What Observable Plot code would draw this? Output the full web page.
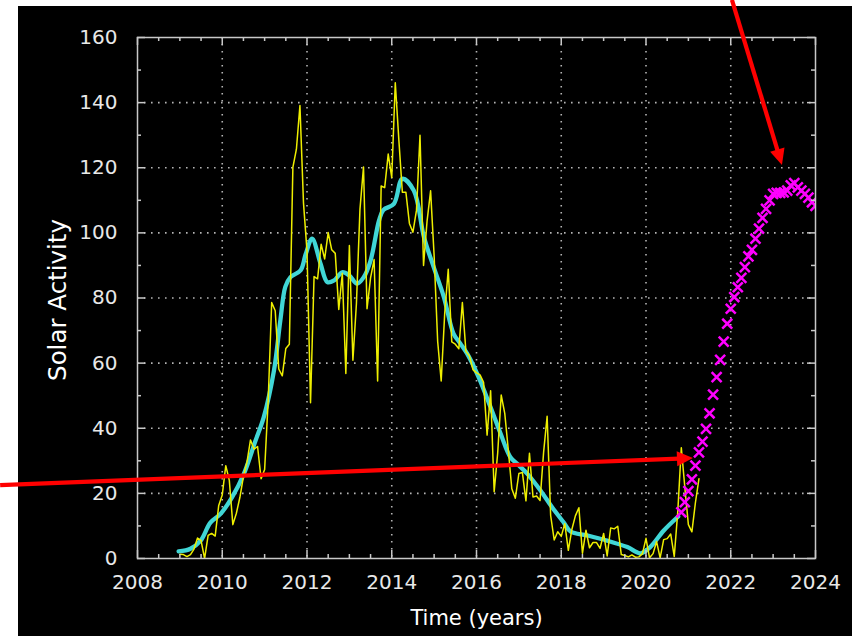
<!DOCTYPE html>
<html><head><meta charset="utf-8">
<script src="https://cdn.jsdelivr.net/npm/d3@7"></script>
<script src="https://cdn.jsdelivr.net/npm/@observablehq/plot@0.6"></script>
<style>
html,body{margin:0;padding:0;background:#fff;}
#wrap{position:relative;width:852px;height:638px;overflow:hidden;background:#fff;}
#bg{position:absolute;left:18px;top:6px;width:834px;height:630px;background:#000;}
#chart{position:absolute;left:0;top:0;}
</style></head><body>
<div id="wrap"><div id="bg"></div><div id="chart"></div></div>
<script>
// Monthly sunspot numbers, Jan 2009 .. Apr 2021 (yellow)
const monthlyStart = 2009;
const monthlyValues = [
  1.3, 1.2, 0.6, 1.2, 2.9, 6.3, 5.5, 0.0, 7.1, 7.7, 6.9, 16.3,
  19.5, 28.5, 24.0, 10.4, 13.9, 18.8, 25.2, 29.6, 36.4, 33.6, 34.4, 24.5,
  27.3, 48.3, 78.6, 76.1, 58.2, 56.1, 64.5, 65.8, 120.1, 125.7, 139.1, 109.3,
  94.4, 47.8, 86.6, 85.9, 96.5, 92.0, 100.1, 94.8, 93.7, 76.5, 87.6, 56.8,
  96.1, 60.9, 78.3, 107.3, 120.2, 76.7, 86.2, 91.8, 54.5, 114.4, 113.9, 124.2,
  117.0, 146.1, 128.7, 112.5, 112.5, 102.9, 100.2, 106.9, 130.0, 90.0, 103.6, 112.9,
  93.0, 66.7, 54.5, 75.3, 88.8, 66.5, 65.8, 64.4, 78.6, 63.6, 62.2, 58.0,
  57.0, 56.4, 54.1, 37.9, 51.5, 20.5, 32.4, 50.2, 44.6, 33.4, 21.4, 18.5,
  26.1, 26.4, 17.7, 32.3, 18.9, 19.2, 17.8, 32.6, 43.7, 13.2, 5.7, 8.2,
  6.8, 10.7, 2.5, 8.9, 13.1, 15.6, 1.6, 8.7, 3.3, 4.9, 4.9, 3.1,
  7.7, 0.8, 9.4, 9.1, 9.9, 1.2, 0.9, 0.5, 1.1, 0.4, 0.5, 1.5,
  6.2, 0.2, 1.5, 5.2, 0.2, 5.8, 6.1, 7.5, 0.6, 14.4, 34.0, 21.8,
  10.4, 8.2, 17.2, 24.5
];

// Smoothed curve (cyan)
const smoothYears = [2008.97, 2009.25, 2009.49, 2009.72, 2009.96, 2010.23, 2010.51, 2010.78, 2010.98,
  2011.22, 2011.37, 2011.49, 2011.61, 2011.85, 2011.97, 2012.12, 2012.32, 2012.48, 2012.64, 2012.83,
  2013.0, 2013.18, 2013.34, 2013.5, 2013.7, 2013.8, 2014.05, 2014.25, 2014.52, 2014.76, 2014.99,
  2015.23, 2015.46, 2015.62, 2015.78, 2016.05, 2016.33, 2016.57, 2016.8, 2017.0, 2017.2, 2017.51,
  2017.78, 2018.05, 2018.22, 2018.61, 2019.08, 2019.56, 2019.87, 2020.1, 2020.42, 2020.76];
const smoothValues = [2.2, 3.0, 5.5, 11.0, 13.7, 18.8, 26.0, 36.0, 43.4,
  57.7, 73.0, 83.5, 86.4, 88.5, 93.5, 98.2, 90.5, 84.9, 85.4, 87.9,
  86.9, 84.4, 86.4, 91.5, 103.8, 107.0, 108.9, 116.6, 113.0, 98.7, 89.5,
  80.3, 69.0, 66.0, 62.9, 55.7, 46.5, 38.3, 31.1, 28.6, 26.0, 20.9,
  15.8, 11.2, 8.3, 7.1, 5.5, 3.5, 1.6, 3.5, 8.6, 12.9];

// Predicted values (magenta), monthly from Nov 2020
const predStart = 2020 + 10 / 12;
const predValues = [14.2, 17.3, 20.7, 24.3, 28.5, 32.6, 35.9, 39.8, 44.6, 50.3, 55.7, 61.0,
  66.6, 72.1, 76.7, 80.3, 83.3, 86.2, 89.5, 92.8, 94.8, 98.2, 101.3, 104.6,
  107.4, 110.0, 112.0, 112.3, 112.3, 112.4, 113.0, 114.6, 115.3, 114.0, 113.0, 112.0,
  110.8, 109.4, 108.3];

// Axis ticks
const xMajor = [2008, 2010, 2012, 2014, 2016, 2018, 2020, 2022, 2024];
const xMinor = d3.range(2008.5, 2024, 0.5).filter(d => d % 2 !== 0);
const yMajor = [0, 20, 40, 60, 80, 100, 120, 140, 160];
const yMinor = [10, 30, 50, 70, 90, 110, 130, 150];

// Annotation arrows (data units)
const arrowX1 = [2004.77, 2022.04];
const arrowY1 = [22.4, 171.4];
const arrowX2 = [2021.12, 2023.22];
const arrowY2 = [30.7, 120.7];

const monthly = monthlyValues.map((v, i) => ({t: monthlyStart + i / 12, v}));
const smooth = smoothValues.map((v, i) => ({t: smoothYears[i], v}));
const pred = predValues.map((v, i) => ({t: predStart + i / 12, v}));

const W = 852, H = 638, mL = 137, mR = 37, mT = 37, mB = 80;
const plotH = H - mT - mB, plotW = W - mL - mR;
const axisColor = "#c8c8c8";

function arrowMark(index, scales, values, dimensions) {
  const sx = typeof scales.x === "function" ? scales.x : d3.scaleLinear([2008, 2024], [mL, W - mR]);
  const sy = typeof scales.y === "function" ? scales.y : d3.scaleLinear([0, 160], [H - mB, mT]);
  const g = d3.create("svg:g");
  for (let i = 0; i < arrowX1.length; i++) {
    const x1 = sx(arrowX1[i]), y1 = sy(arrowY1[i]), x2 = sx(arrowX2[i]), y2 = sy(arrowY2[i]);
    const dx = x2 - x1, dy = y2 - y1, len = Math.hypot(dx, dy), ux = dx / len, uy = dy / len;
    const L = 16, hw = 7.5;
    const bx = x2 - ux * L, by = y2 - uy * L;
    g.append("line").attr("x1", x1).attr("y1", y1).attr("x2", bx + ux * 2).attr("y2", by + uy * 2)
      .attr("stroke", "#ff0000").attr("stroke-width", 4.2);
    g.append("path")
      .attr("d", `M${x2},${y2}L${bx - uy * hw},${by + ux * hw}L${bx + uy * hw},${by - ux * hw}Z`)
      .attr("fill", "#ff0000");
  }
  return g.node();
}

const plot = Plot.plot({
  width: W, height: H,
  marginLeft: mL, marginRight: mR, marginTop: mT, marginBottom: mB,
  x: {domain: [2008, 2024], label: null},
  y: {domain: [0, 160], label: null},
  style: {background: "transparent", color: "#e8e8e8", fontFamily: "DejaVu Sans, sans-serif", fontSize: "20px", overflow: "visible"},
  marks: [
    Plot.ruleX(xMajor.slice(1, -1), {x: d => d, stroke: "#b4b4b4", strokeWidth: 1.6, strokeDasharray: "1.6,5.4"}),
    Plot.ruleY(yMajor.slice(1, -1), {y: d => d, stroke: "#b4b4b4", strokeWidth: 1.6, strokeDasharray: "1.6,5.4"}),
    Plot.line(smooth, {x: "t", y: "v", stroke: "#40d6d6", strokeWidth: 4.3, curve: "catmull-rom", clip: true}),
    Plot.line(monthly, {x: "t", y: "v", stroke: "#eeee00", strokeWidth: 1.5, clip: true}),
    Plot.dot(pred, {x: "t", y: "v", symbol: "times", r: 4.6, stroke: "#ff00ff", strokeWidth: 2.5, clip: true}),
    Plot.frame({stroke: axisColor, strokeWidth: 1.5}),
    Plot.tickX(xMajor, {x: d => d, insetTop: plotH - 8, stroke: axisColor, strokeWidth: 1.5}),
    Plot.tickX(xMajor, {x: d => d, insetBottom: plotH - 8, stroke: axisColor, strokeWidth: 1.5}),
    Plot.tickX(xMinor, {x: d => d, insetTop: plotH - 4, stroke: axisColor, strokeWidth: 1.5}),
    Plot.tickX(xMinor, {x: d => d, insetBottom: plotH - 4, stroke: axisColor, strokeWidth: 1.5}),
    Plot.tickY(yMajor, {y: d => d, insetRight: plotW - 8, stroke: axisColor, strokeWidth: 1.5}),
    Plot.tickY(yMajor, {y: d => d, insetLeft: plotW - 8, stroke: axisColor, strokeWidth: 1.5}),
    Plot.tickY(yMinor, {y: d => d, insetRight: plotW - 4, stroke: axisColor, strokeWidth: 1.5}),
    Plot.tickY(yMinor, {y: d => d, insetLeft: plotW - 4, stroke: axisColor, strokeWidth: 1.5}),
    Plot.axisX(xMajor, {tickSize: 0, tickPadding: 16, tickFormat: d => String(d), fontSize: 20, fill: "#e8e8e8"}),
    Plot.axisY(yMajor, {tickSize: 0, tickPadding: 20, tickFormat: d => String(d), fontSize: 20, fill: "#e8e8e8"}),
    Plot.text(["Time (years)"], {text: d => d, frameAnchor: "bottom", dy: 60, lineAnchor: "middle", textAnchor: "middle", fontSize: 21, fill: "#ffffff"}),
    Plot.text(["Solar Activity"], {text: d => d, frameAnchor: "left", dx: -79, dy: 2, rotate: -90, lineAnchor: "middle", textAnchor: "middle", fontSize: 24.5, fill: "#ffffff"}),
    arrowMark
  ]
});
document.getElementById("chart").appendChild(plot);
</script>
</body></html>
